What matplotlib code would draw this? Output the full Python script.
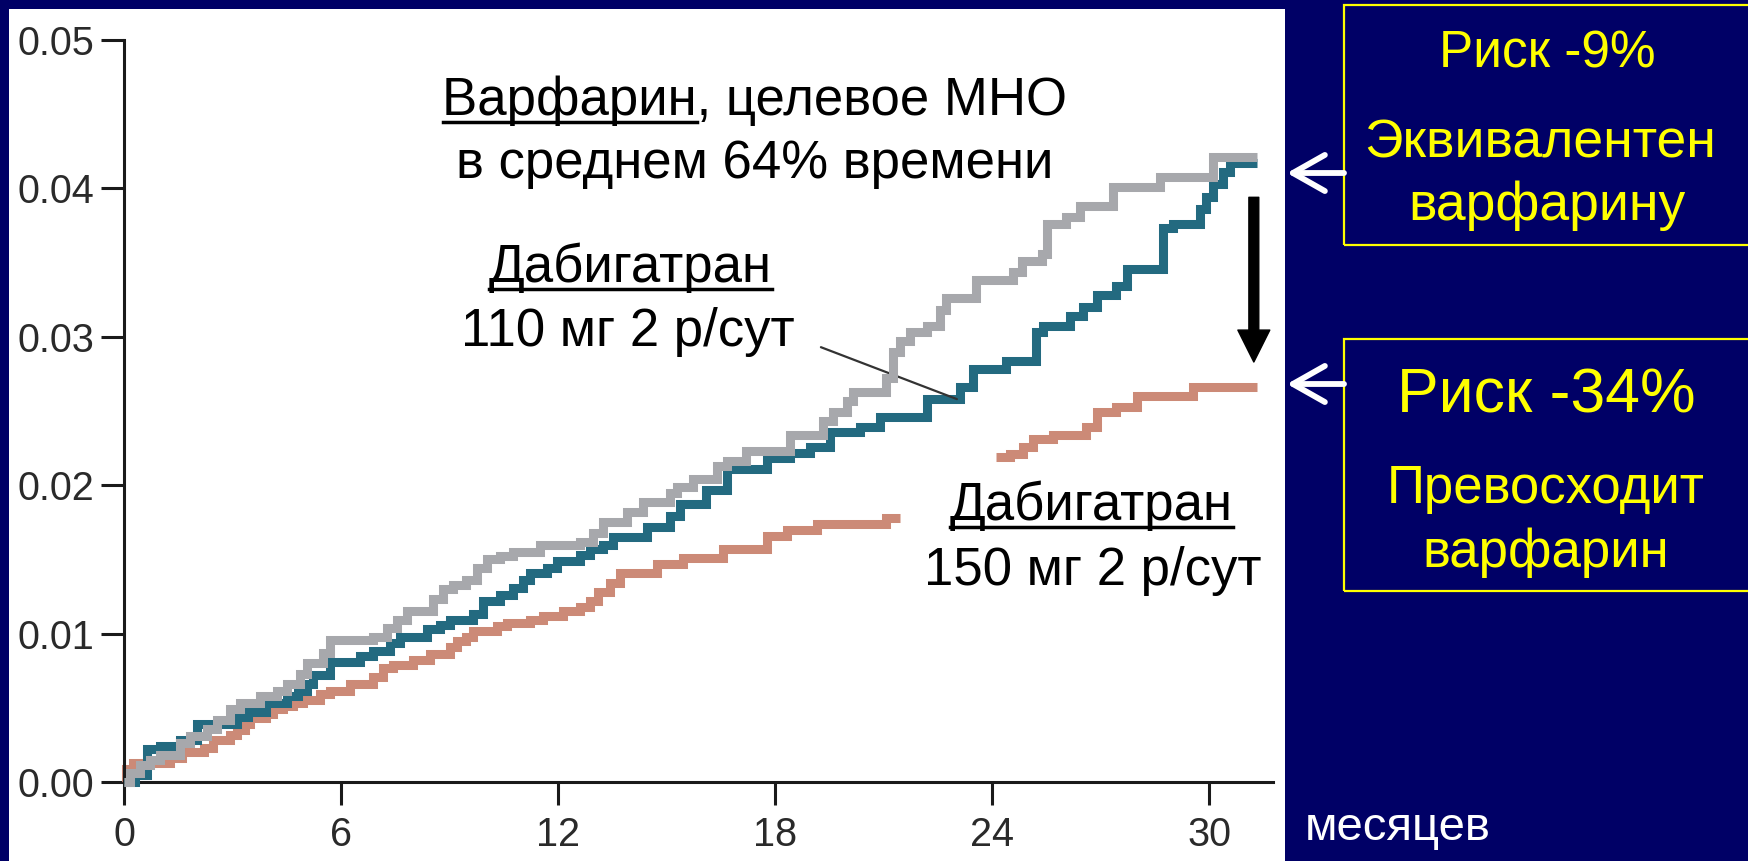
import numpy as np
import matplotlib
matplotlib.use("Agg")
import matplotlib.pyplot as plt
from matplotlib.patches import Rectangle, FancyArrowPatch
from matplotlib.lines import Line2D
from matplotlib.transforms import IdentityTransform

W, H = 1748, 861
NAVY = "#000066"
YELLOW = "#ffff00"

# --- данные (месяцы, кумулятивный риск) ---
warf_t = [0, 0.17, 0.44, 0.72, 0.99, 1.55, 1.83, 2.29, 2.56, 2.93, 3.21, 3.76, 4.22, 4.50, 4.87,
          5.05, 5.51, 5.70, 6.89, 7.26, 7.54, 7.82, 8.55, 8.83, 9.10, 9.47, 9.75, 10.03, 10.40, 10.76,
          11.50, 12.60, 12.98, 13.25, 13.90, 14.36, 15.10, 15.28, 15.74, 16.39, 16.66, 17.21, 18.42,
          19.33, 19.61, 19.98, 20.16, 21.08, 21.27, 21.45, 21.73, 22.19, 22.56, 22.74, 23.57, 24.59,
          24.82, 25.37, 25.51, 26.06, 26.43, 27.35, 28.64, 30.12, 31.32]
warf_v = [0, 0.0006, 0.00115, 0.0015, 0.0018, 0.0026, 0.0031, 0.0036, 0.0042, 0.0049, 0.0053, 0.0058,
          0.0061, 0.0066, 0.0073, 0.0080, 0.0087, 0.0096, 0.0098, 0.0104, 0.0109, 0.0115, 0.0123, 0.0130,
          0.0133, 0.0136, 0.0144, 0.0150, 0.0152, 0.0155, 0.0160, 0.0162, 0.0168, 0.0175, 0.0182, 0.0189,
          0.0195, 0.0199, 0.0204, 0.0213, 0.0216, 0.0223, 0.0234, 0.0243, 0.0249, 0.0257, 0.0263, 0.0272,
          0.0290, 0.0297, 0.0303, 0.0307, 0.0318, 0.0326, 0.0338, 0.0344, 0.0351, 0.0356, 0.0376, 0.0381,
          0.0388, 0.0401, 0.0408, 0.0421, 0.0421]

d110_t = [0, 0.30, 0.63, 0.99, 1.55, 2.01, 3.12, 3.44, 3.94, 4.50, 4.82, 5.05, 5.23, 5.70, 6.52, 6.89,
          7.35, 7.63, 8.37, 8.74, 9.01, 9.66, 9.93, 10.40, 10.76, 11.04, 11.23, 11.69, 11.96, 12.60,
          12.88, 13.25, 13.53, 14.45, 15.10, 15.37, 16.10, 16.66, 17.77, 18.42, 18.97, 19.52, 20.35,
          20.90, 22.19, 23.11, 23.48, 24.40, 25.23, 25.42, 26.15, 26.52, 26.89, 27.44, 27.72, 28.73,
          29.00, 29.75, 29.93, 30.12, 30.40, 30.58, 31.32]
d110_v = [0, 0.0005, 0.0022, 0.0024, 0.0028, 0.0039, 0.0044, 0.0047, 0.0053, 0.0058, 0.0061, 0.0066,
          0.0072, 0.0081, 0.0085, 0.0088, 0.0094, 0.0098, 0.0103, 0.0106, 0.0109, 0.0113, 0.0122, 0.0126,
          0.0131, 0.0136, 0.0141, 0.0144, 0.0149, 0.0153, 0.0157, 0.0160, 0.0165, 0.0172, 0.0179, 0.0187,
          0.0197, 0.0211, 0.0218, 0.0222, 0.0226, 0.0236, 0.0239, 0.0246, 0.0258, 0.0266, 0.0278, 0.0284,
          0.0303, 0.0307, 0.0314, 0.0320, 0.0328, 0.0334, 0.0346, 0.0373, 0.0376, 0.0386, 0.0394, 0.0403,
          0.0411, 0.0417, 0.0417]

# у кривой 150 мг на слайде есть разрыв (nan)
d150_t = [0, 0.05, 0.26, 1.27, 1.59, 2.20, 2.47, 2.93, 3.12, 3.35, 3.48, 3.94, 4.13, 4.40, 4.68, 4.96,
          5.42, 5.70, 6.25, 6.89, 7.17, 7.45, 8.00, 8.46, 9.01, 9.20, 9.47, 9.66, 10.30, 10.58, 11.23,
          11.59, 12.14, 12.60, 12.88, 13.10, 13.44, 13.71, 14.73, 15.46, 16.57, 17.77, 18.32, 19.15,
          21.08, 21.45, 24.10, 24.50, 24.86, 25.14, 25.70, 26.60, 26.89, 27.44, 28.00, 29.57, 31.32]
d150_v = [0, 0.0009, 0.0013, 0.0016, 0.0020, 0.0023, 0.0028, 0.0032, 0.0035, 0.0039, 0.0043, 0.0046,
          0.0049, 0.0051, 0.0053, 0.0055, 0.0059, 0.0061, 0.0066, 0.0071, 0.0077, 0.0079, 0.0082, 0.0086,
          0.0091, 0.0095, 0.0098, 0.0102, 0.0105, 0.0107, 0.0109, 0.0112, 0.0115, 0.0118, 0.0122, 0.0128,
          0.0134, 0.0141, 0.0147, 0.0151, 0.0157, 0.0166, 0.0170, 0.0174, 0.0178, np.nan, 0.0219, 0.0221,
          0.0226, 0.0231, 0.0234, 0.0239, 0.0249, 0.0253, 0.0260, 0.0266, 0.0266]

x_ticks = [0, 6, 12, 18, 24, 30]
y_ticks = [0.0, 0.01, 0.02, 0.03, 0.04, 0.05]
y_labels = ["0.00", "0.01", "0.02", "0.03", "0.04", "0.05"]

plt.rcParams["font.family"] = ["Liberation Sans", "DejaVu Sans"]

fig = plt.figure(figsize=(W / 100, H / 100), dpi=100, facecolor=NAVY)

# белая подложка под графиком
fig.patches.append(Rectangle((9 / W, 0), (1285 - 9) / W, (H - 9) / H,
                             transform=fig.transFigure, facecolor="white", edgecolor="none", zorder=-5))

ax = fig.add_axes([124 / W, 1 - 782 / H, (1273 - 124) / W, (782 - 40) / H])
ax.set_zorder(1)
ax.set_facecolor("none")
ax.set_xlim(0, 31.77)
ax.set_ylim(0, 0.05)

kw = dict(where="post", lw=6.5, solid_joinstyle="miter", solid_capstyle="butt", clip_on=False)
ax.step(d150_t, d150_v, color="#cc8a77", zorder=2, **kw)
ax.step(d110_t, d110_v, color="#236a80", zorder=3, **kw)
ax.step(warf_t, warf_v, color="#a7a8ac", zorder=4, **kw)

for s in ["top", "right"]:
    ax.spines[s].set_visible(False)
for s in ["left", "bottom"]:
    ax.spines[s].set_linewidth(2.2)
    ax.spines[s].set_color("#1a1a1a")

tick_font = {"family": ["Liberation Sans", "DejaVu Sans"], "size": 28.5}
ax.set_xticks(x_ticks)
ax.set_xticklabels([str(x) for x in x_ticks], fontdict=tick_font, color="#2a2a2a")
ax.set_yticks(y_ticks)
ax.set_yticklabels(y_labels, fontdict=tick_font, color="#2a2a2a")
ax.tick_params(axis="both", direction="out", length=16.5, width=2.2, color="#1a1a1a")
ax.tick_params(axis="y", pad=5)
ax.tick_params(axis="x", pad=8)

# выноска к кривой 110 мг
ax.annotate("", xy=(23.03, 0.0258), xytext=(19.27, 0.0293),
            arrowprops=dict(arrowstyle="-", color="#333333", lw=1.6, shrinkA=0, shrinkB=0))

# чёрная стрелка вниз
ax.add_patch(FancyArrowPatch((31.24, 0.0394), (31.24, 0.0283),
                             arrowstyle="simple,head_length=1,head_width=1,tail_width=0.31",
                             mutation_scale=23, color="black", shrinkA=0, shrinkB=0, zorder=5))

renderer = fig.canvas.get_renderer()


def label(x, y, s, size, color="black", under=None, ha="center"):
    t = fig.text(x / W, 1 - y / H, s, ha=ha, va="baseline", fontsize=size, color=color, zorder=3)
    if under:
        bb = t.get_window_extent(renderer)
        tmp = fig.text(0, 0, under, fontsize=size)
        w = tmp.get_window_extent(renderer).width
        tmp.remove()
        yl = H - y - 7
        fig.add_artist(Line2D([bb.x0, bb.x0 + w], [yl, yl], transform=IdentityTransform(),
                              color=color, lw=2.5, zorder=3))
    return t


label(755, 115, "Варфарин, целевое МНО", 38, under="Варфарин")
label(755, 178, "в среднем 64% времени", 38)
label(630, 282, "Дабигатран", 38, under="Дабигатран")
label(628, 346, "110 мг 2 р/сут", 38)
label(1091, 520, "Дабигатран", 38, under="Дабигатран")
label(1093, 585, "150 мг 2 р/сут", 38)
label(1305, 840, "месяцев", 34, color="white", ha="left")

# жёлтые рамки справа
for top, bot in [(5, 245), (339, 591)]:
    fig.add_artist(Rectangle((1344, H - bot), 500, bot - top, transform=IdentityTransform(),
                             facecolor="none", edgecolor=YELLOW, lw=1.6))

label(1547, 67, "Риск -9%", 37, color=YELLOW)
label(1540, 157, "Эквивалентен", 38.5, color=YELLOW)
label(1547, 220, "варфарину", 38.5, color=YELLOW)
label(1546, 412, "Риск -34%", 45, color=YELLOW)
label(1546, 503, "Превосходит", 38, color=YELLOW)
label(1546, 567, "варфарин", 38, color=YELLOW)

# белые стрелки от рамок к кривым
for y in [173, 384]:
    fig.add_artist(FancyArrowPatch((1344, H - y), (1287, H - y), transform=IdentityTransform(),
                                   arrowstyle="->,head_length=2.3,head_width=1.3", mutation_scale=10,
                                   color="white", lw=4.2, capstyle="round", joinstyle="round",
                                   shrinkA=0, shrinkB=0))

fig.savefig("out.png", dpi=100, facecolor=fig.get_facecolor())
